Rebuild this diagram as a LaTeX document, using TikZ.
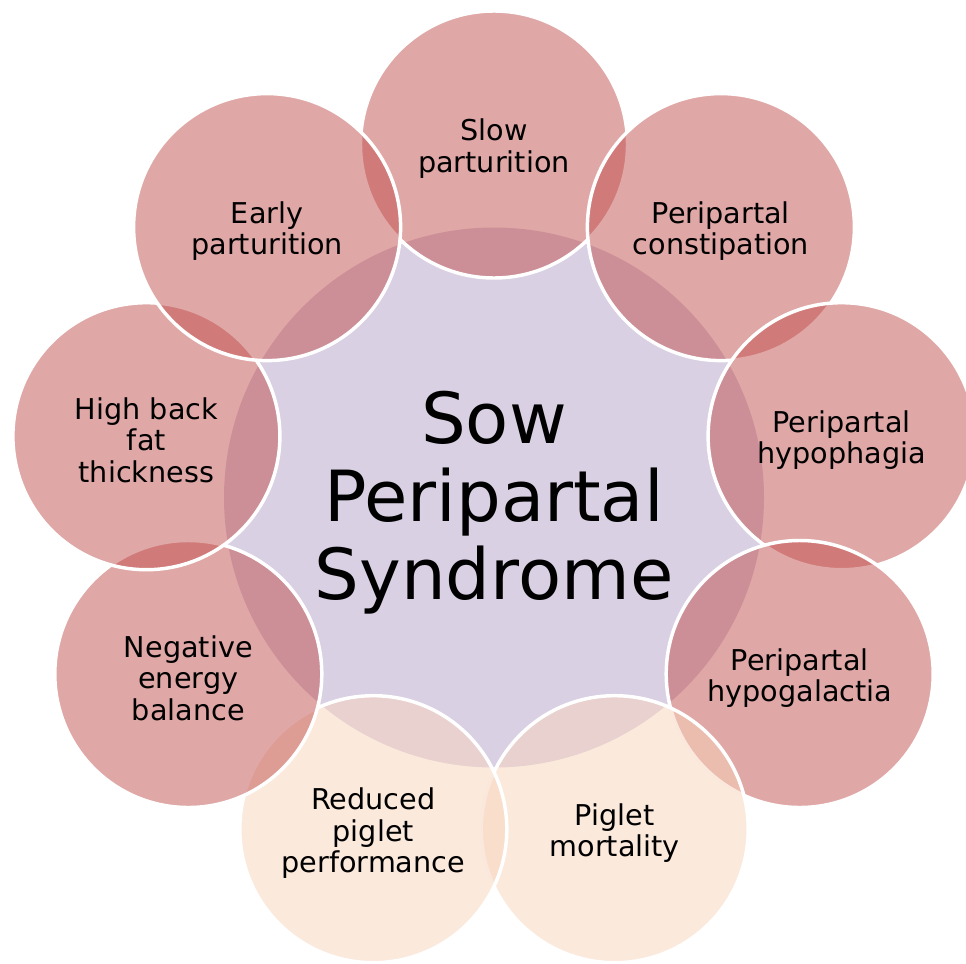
\documentclass[tikz,border=0pt]{standalone}
\usepackage{fontspec}
\setmainfont{DejaVu Sans}
\definecolor{redc}{RGB}{192,80,77}
\definecolor{peachc}{RGB}{247,211,186}
\definecolor{lavc}{RGB}{217,208,227}
\begin{document}
\begin{tikzpicture}[x=0.75pt,y=-0.75pt,
  outer/.style={circle, minimum size=200.25pt, inner sep=0pt, draw=white, line width=2.6pt,
    fill opacity=0.5},
  redball/.style={outer, fill=redc},
  peachball/.style={outer, fill=peachc},
  hub/.style={circle, minimum size=405pt, inner sep=0pt, fill=lavc},
  balltext/.style={align=center, text=black, inner sep=0pt, yshift=-3pt,
    font=\fontsize{21.5}{23.6}\selectfont},
  hubtext/.style={align=center, text=black, inner sep=0pt, yshift=-3.5pt,
    font=\fontsize{52.9}{58.5}\selectfont}]
\useasboundingbox (0,0) rectangle (966,963);
\clip (0,0) rectangle (966,963);
\node[hub] (hub) at (494,497.5) {};
\node[redball] (slow) at (494,144.5) {};
\node[redball] (const) at (720.9,227.1) {};
\node[redball] (hypoph) at (841.6,436.2) {};
\node[redball] (hypog) at (799.7,674.0) {};
\node[peachball] (mort) at (614.7,829.2) {};
\node[peachball] (reduced) at (373.3,829.2) {};
\node[redball] (neg) at (188.3,674.0) {};
\node[redball] (fat) at (146.4,436.2) {};
\node[redball] (early) at (267.1,227.1) {};
\node[hubtext] (hubt) at (hub) {Sow\\Peripartal\\Syndrome};
\node[balltext] (slowt) at (slow) {Slow\\parturition};
\node[balltext] (constt) at (const) {Peripartal\\constipation};
\node[balltext] (hypopht) at (hypoph) {Peripartal\\hypophagia};
\node[balltext] (hypogt) at (hypog) {Peripartal\\hypogalactia};
\node[balltext] (mortt) at (mort) {Piglet\\mortality};
\node[balltext] (reducedt) at (reduced) {Reduced\\piglet\\performance};
\node[balltext] (negt) at (neg) {Negative\\energy\\balance};
\node[balltext] (fatt) at (fat) {High back\\fat\\thickness};
\node[balltext] (earlyt) at (early) {Early\\parturition};
\end{tikzpicture}
\end{document}
